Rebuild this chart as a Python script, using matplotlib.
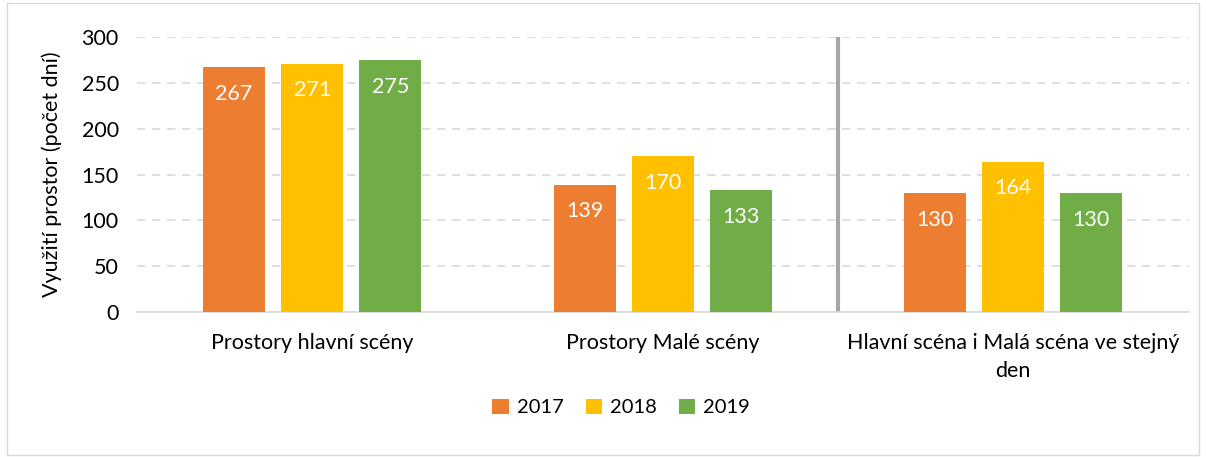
import numpy as np
import matplotlib.pyplot as plt
from matplotlib.patches import Rectangle

plt.rcParams['font.family'] = ['Lato', 'DejaVu Sans']

categories = ['Prostory hlavní scény', 'Prostory Malé scény',
              'Hlavní scéna i Malá scéna ve stejný\nden']
years = ['2017', '2018', '2019']
values_2017 = [267, 139, 130]
values_2018 = [271, 170, 164]
values_2019 = [275, 133, 130]
colors = ['#ED7D31', '#FFC000', '#70AD47']

fig = plt.figure(figsize=(12.06, 4.57), dpi=100)
fig.patches.append(Rectangle((0.006, 0.004), 0.988, 0.99, transform=fig.transFigure,
                             fill=False, edgecolor='#D9D9D9', linewidth=1))
ax = fig.add_axes([0.1135, 0.317, 0.872, 0.602])

x = np.arange(len(categories))
width = 0.177
step = 0.223
for i, (vals, year) in enumerate(zip([values_2017, values_2018, values_2019], years)):
    pos = x + (i - 1) * step
    ax.bar(pos, vals, width, color=colors[i], label=year, zorder=3)
    for px, v in zip(pos, vals):
        ax.text(px, v - 29, str(v), ha='center', va='center', color='white',
                fontsize=15.5, zorder=4)

# separator between the first two groups and the third
ax.axvline(1.5, ymin=0, ymax=1, color='#A6A6A6', linewidth=3, zorder=2)

ax.set_xlim(-0.5, 2.5)
ax.set_ylim(0, 300)
ax.set_yticks(range(0, 301, 50))
ax.yaxis.grid(True, linestyle=(0, (5, 4)), color='#D9D9D9', linewidth=1.2)
ax.set_axisbelow(True)
for s in ['top', 'right', 'left']:
    ax.spines[s].set_visible(False)
ax.spines['bottom'].set_color('#D9D9D9')
ax.spines['bottom'].set_linewidth(1.2)
ax.tick_params(length=0, labelsize=15.5, colors='black')
ax.tick_params(axis='y', pad=13)
ax.tick_params(axis='x', pad=15)
ax.set_xticks(x)
ax.set_xticklabels(categories, linespacing=1.5)
ax.set_ylabel('Využití prostor (počet dní)', fontsize=15.5, labelpad=14)

fig.legend(loc='center', bbox_to_anchor=(0.515, 0.108), ncol=3, frameon=False,
           fontsize=14.5, handlelength=0.8, handleheight=0.8, handletextpad=0.4,
           columnspacing=1.1)

fig.savefig('out.png', dpi=100)
